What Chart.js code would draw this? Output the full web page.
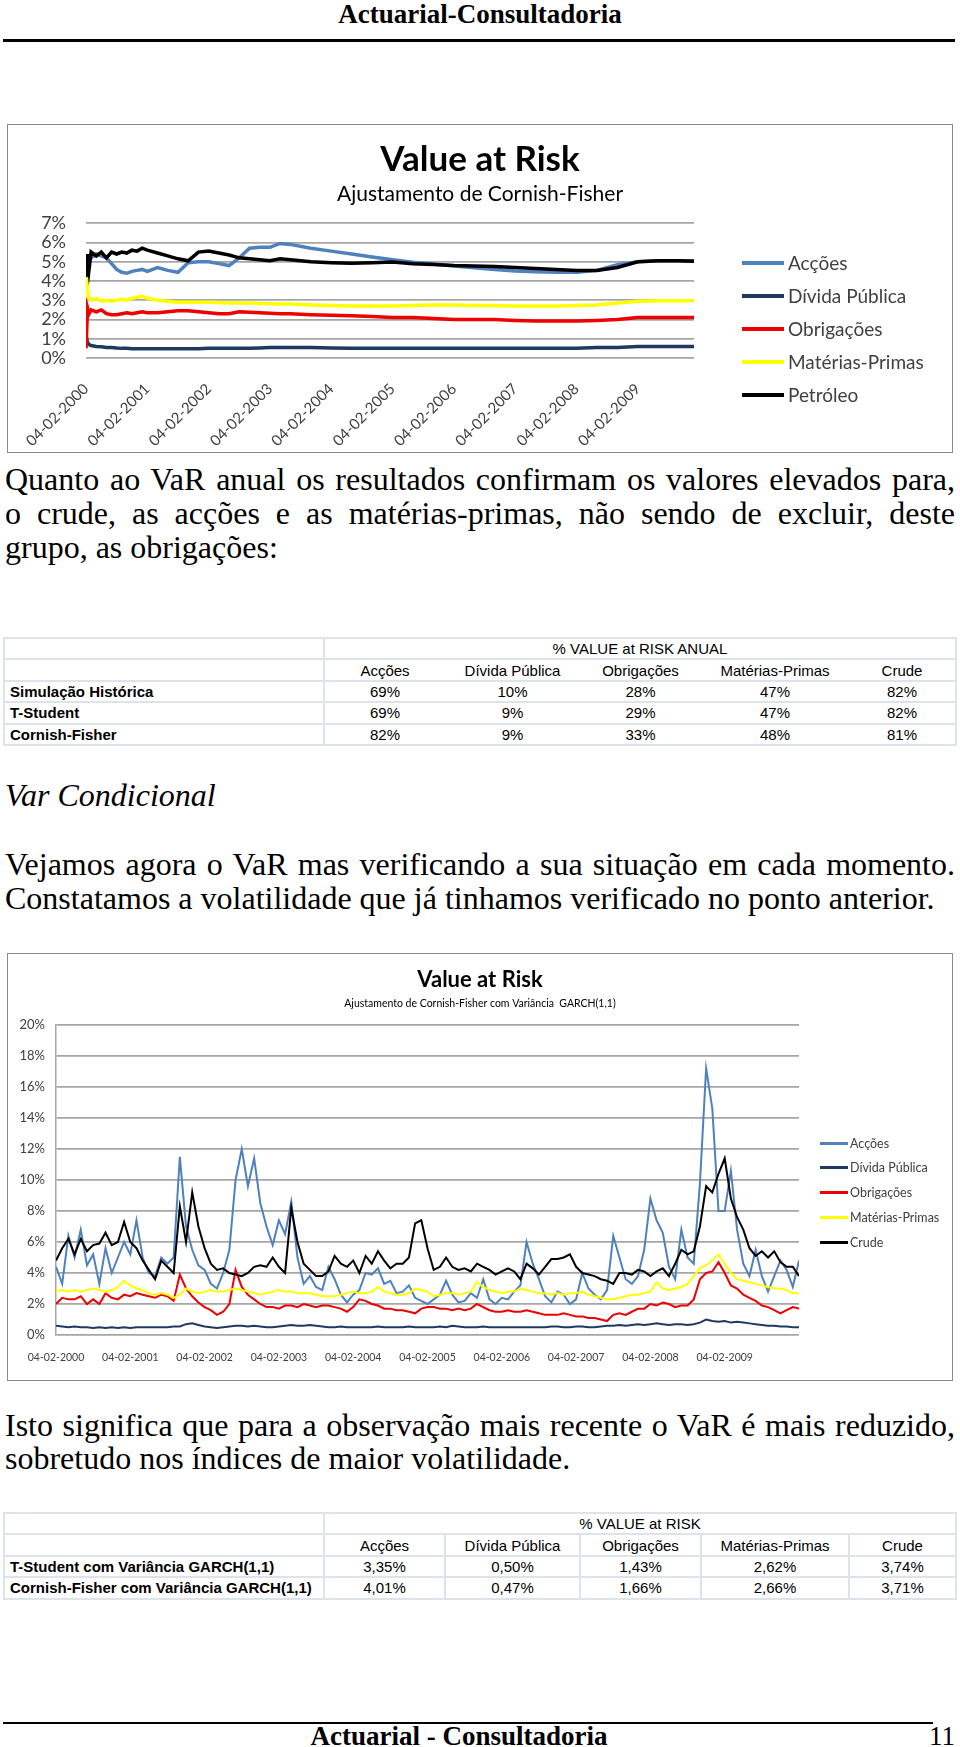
<!DOCTYPE html>
<html>
<head>
<meta charset="utf-8">
<script src="https://cdn.jsdelivr.net/npm/chart.js@4.4.1/dist/chart.umd.min.js"></script>
<style>
  body { margin: 0; background: #fff; }
  #page { position: relative; width: 960px; height: 1747px; overflow: hidden; font-family: 'Liberation Serif', 'Times New Roman', serif; color: #000; }
  .abs { position: absolute; }
  .hdr { font-weight: bold; font-size: 27px; line-height: 30px; text-align: center; }
  .txt { left: 5px; width: 950px; font-size: 32px; line-height: 34px; }
  .just { text-align: justify; text-align-last: justify; }
  .frame { border: 1.5px solid #8a8a8a; box-sizing: border-box; }
  .chartbox { position: absolute; }
  table { position: absolute; left: 3px; border-collapse: collapse; table-layout: fixed; width: 952px;
          font-family: 'Liberation Sans', Arial, sans-serif; font-size: 15px; }
  tr { height: 21.4px; }
  td { padding: 0 5px; text-align: center; white-space: nowrap; border-top: 2px solid #dde3ea; border-bottom: 2px solid #dde3ea; }
  td.lab { text-align: left; font-weight: bold; border-left: 2px solid #dde3ea; border-right: 2px solid #dde3ea; }
  td.end { border-right: 2px solid #dde3ea; }
  #t2 td { border: 2px solid #dde3ea; }
  .lg { position: absolute; font-family: Lato, sans-serif; color: #404040; white-space: nowrap; }
</style>
</head>
<body>
<div id="page">
  <div class="abs hdr" style="left:0;top:-1px;width:960px">Actuarial-Consultadoria</div>
  <div class="abs" style="left:3px;top:39px;width:952px;height:2.5px;background:#000"></div>

  <div class="abs frame" style="left:7px;top:124px;width:946px;height:329px"></div>
  <div class="chartbox" style="left:7px;top:124px;width:946px;height:329px"><canvas id="chart1"></canvas></div>
  <div id="legend1"></div>

  <div class="abs txt just" style="top:462px">Quanto ao VaR anual os resultados confirmam os valores elevados para,</div>
  <div class="abs txt just" style="top:496px">o crude, as acções e as matérias-primas, não sendo de excluir, deste</div>
  <div class="abs txt" style="top:530px">grupo, as obrigações:</div>

  <table id="t1" style="top:637px">
    <colgroup><col style="width:320px"><col style="width:121px"><col style="width:135px"><col style="width:121px"><col style="width:148px"><col style="width:107px"></colgroup>
    <tr><td class="lab"></td><td colspan="5" class="end">% VALUE at RISK ANUAL</td></tr>
    <tr><td class="lab"></td><td>Acções</td><td>Dívida Pública</td><td>Obrigações</td><td>Matérias-Primas</td><td class="end">Crude</td></tr>
    <tr><td class="lab">Simulação Histórica</td><td>69%</td><td>10%</td><td>28%</td><td>47%</td><td class="end">82%</td></tr>
    <tr><td class="lab">T-Student</td><td>69%</td><td>9%</td><td>29%</td><td>47%</td><td class="end">82%</td></tr>
    <tr><td class="lab">Cornish-Fisher</td><td>82%</td><td>9%</td><td>33%</td><td>48%</td><td class="end">81%</td></tr>
  </table>

  <div class="abs txt" style="top:778px;font-style:italic">Var Condicional</div>
  <div class="abs txt just" style="top:847px">Vejamos agora o VaR mas verificando a sua situação em cada momento.</div>
  <div class="abs txt" style="top:881px">Constatamos a volatilidade que já tinhamos verificado no ponto anterior.</div>

  <div class="abs frame" style="left:7px;top:953px;width:946px;height:428px"></div>
  <div class="chartbox" style="left:7px;top:953px;width:946px;height:428px"><canvas id="chart2"></canvas></div>
  <div id="legend2"></div>

  <div class="abs txt just" style="top:1408px">Isto significa que para a observação mais recente o VaR é mais reduzido,</div>
  <div class="abs txt" style="top:1441px">sobretudo nos índices de maior volatilidade.</div>

  <table id="t2" style="top:1512px">
    <colgroup><col style="width:320px"><col style="width:121px"><col style="width:135px"><col style="width:121px"><col style="width:148px"><col style="width:107px"></colgroup>
    <tr><td class="lab"></td><td colspan="5">% VALUE at RISK</td></tr>
    <tr><td class="lab"></td><td>Acções</td><td>Dívida Pública</td><td>Obrigações</td><td>Matérias-Primas</td><td>Crude</td></tr>
    <tr><td class="lab">T-Student com Variância GARCH(1,1)</td><td>3,35%</td><td>0,50%</td><td>1,43%</td><td>2,62%</td><td>3,74%</td></tr>
    <tr><td class="lab">Cornish-Fisher com Variância GARCH(1,1)</td><td>4,01%</td><td>0,47%</td><td>1,66%</td><td>2,66%</td><td>3,71%</td></tr>
  </table>

  <div class="abs" style="left:3px;top:1722px;width:930px;height:2px;background:#000"></div>
  <div class="abs hdr" style="left:0;top:1721px;width:918px">Actuarial - Consultadoria</div>
  <div class="abs" style="left:880px;top:1721px;width:75px;text-align:right;font-size:27px;line-height:30px">11</div>
</div>

<script>
// ===== DATA =====
const tickLabels = ['04-02-2000', '04-02-2001', '04-02-2002', '04-02-2003', '04-02-2004',
                    '04-02-2005', '04-02-2006', '04-02-2007', '04-02-2008', '04-02-2009'];
const tickMonths = [0, 12, 24, 36, 48, 60, 72, 84, 96, 108];

// chart 1: Cornish-Fisher (months since 04-02-2000)
const names1 = ['Acções', 'Dívida Pública', 'Obrigações', 'Matérias-Primas', 'Petróleo'];
const months1 = [0, 0.3, 0.6, 1, 2, 3, 4, 5, 6, 7, 8, 9, 10, 11, 12,
  14, 16, 18, 20, 22, 24, 26, 28, 30, 32, 34, 36, 38, 40,
  44, 48, 52, 56, 60, 64, 68, 72, 76, 80, 84, 88, 92, 96, 100, 104, 108, 112, 116, 119];
const acoes1 = [5.3, 4.6, 5.0, 5.2, 5.4, 5.3, 5.2, 4.9, 4.6, 4.45, 4.4, 4.5, 4.55, 4.6, 4.5,
  4.7, 4.55, 4.45, 4.95, 5.0, 5.0, 4.9, 4.8, 5.2, 5.7, 5.75, 5.75, 5.95, 5.9,
  5.7, 5.55, 5.4, 5.25, 5.1, 4.97, 4.88, 4.78, 4.68, 4.6, 4.52, 4.48, 4.45, 4.45, 4.55, 4.85, 5.0, 5.05, 5.05, 5.05];
const divida1 = [1.2, 0.8, 0.7, 0.65, 0.6, 0.58, 0.55, 0.55, 0.52, 0.5, 0.5, 0.48, 0.48, 0.48, 0.48,
  0.48, 0.48, 0.48, 0.48, 0.48, 0.5, 0.5, 0.5, 0.5, 0.5, 0.52, 0.55, 0.55, 0.55,
  0.55, 0.52, 0.5, 0.5, 0.5, 0.5, 0.5, 0.5, 0.5, 0.5, 0.5, 0.5, 0.5, 0.5, 0.55, 0.55, 0.6, 0.6, 0.6, 0.6];
const obrig1 = [0.5, 2.6, 2.3, 2.5, 2.4, 2.5, 2.3, 2.25, 2.25, 2.3, 2.35, 2.3, 2.35, 2.4, 2.35,
  2.35, 2.4, 2.45, 2.45, 2.4, 2.35, 2.3, 2.3, 2.4, 2.38, 2.35, 2.33, 2.3, 2.3,
  2.25, 2.22, 2.2, 2.15, 2.1, 2.1, 2.05, 2.0, 2.0, 2.0, 1.95, 1.92, 1.92, 1.92, 1.95, 2.0, 2.1, 2.1, 2.1, 2.1];
const mp1 = [5.1, 3.4, 3.1, 3.0, 3.1, 2.95, 3.0, 2.95, 3.0, 3.05, 3.0, 3.1, 3.15, 3.2, 3.1,
  3.0, 2.95, 2.9, 2.9, 2.9, 2.9, 2.88, 2.85, 2.85, 2.85, 2.83, 2.82, 2.8, 2.8,
  2.75, 2.72, 2.7, 2.7, 2.7, 2.72, 2.75, 2.75, 2.73, 2.72, 2.7, 2.7, 2.7, 2.72, 2.75, 2.85, 2.95, 2.97, 2.97, 2.97];
const petroleo1 = [4.2, 5.4, 4.6, 5.5, 5.3, 5.5, 5.2, 5.5, 5.4, 5.5, 5.45, 5.6, 5.55, 5.7, 5.6,
  5.45, 5.3, 5.15, 5.05, 5.5, 5.55, 5.45, 5.35, 5.2, 5.15, 5.1, 5.05, 5.15, 5.1,
  5.0, 4.95, 4.92, 4.95, 4.98, 4.9, 4.85, 4.8, 4.78, 4.75, 4.7, 4.65, 4.6, 4.55, 4.55, 4.7, 5.0, 5.05, 5.05, 5.02];

// chart 2: Cornish-Fisher com variância GARCH(1,1), one value per month
const names2 = ['Acções', 'Dívida Pública', 'Obrigações', 'Matérias-Primas', 'Crude'];
const acoes2 = [4.4, 3.3, 6.4, 5.0, 6.8, 4.5, 5.2, 3.3, 5.6, 4.0, 5.0,
  6.0, 5.2, 7.4, 5.0, 4.0, 3.8, 5.0, 4.6, 5.0, 11.5,
  7.0, 5.5, 4.5, 4.2, 3.3, 3.0, 4.0, 5.5, 10.0, 12.0,
  9.6, 11.4, 8.5, 7.0, 5.8, 7.4, 6.5, 8.6, 5.0, 3.3,
  3.8, 3.1, 2.9, 4.4, 3.6, 2.6, 2.1, 2.6, 2.9, 4.0,
  3.9, 4.3, 3.3, 3.5, 2.7, 2.8, 3.2, 2.4, 2.2, 2.0,
  2.3, 2.6, 3.5, 2.6, 2.1, 2.2, 2.7, 2.4, 3.6, 2.3,
  2.0, 2.4, 2.3, 2.8, 3.2, 6.0, 4.6, 3.6, 2.5, 2.1,
  2.8, 2.6, 2.0, 2.3, 4.0, 3.0, 2.6, 2.3, 2.9, 6.4,
  5.0, 3.6, 3.3, 3.8, 5.5, 8.8, 7.4, 6.6, 4.4, 3.6,
  6.8, 5.0, 4.6, 9.8, 17.2, 14.6, 8.0, 8.0, 10.6, 6.8,
  4.6, 3.8, 5.5, 3.8, 2.8, 3.8, 4.8, 4.2, 3.1, 4.8];
const divida2 = [0.6, 0.55, 0.5, 0.55, 0.5, 0.5, 0.45, 0.5, 0.45, 0.5, 0.45,
  0.5, 0.45, 0.5, 0.5, 0.5, 0.5, 0.5, 0.5, 0.55, 0.55,
  0.7, 0.75, 0.65, 0.55, 0.5, 0.45, 0.5, 0.55, 0.6, 0.6,
  0.55, 0.6, 0.55, 0.5, 0.5, 0.55, 0.6, 0.65, 0.6, 0.6,
  0.65, 0.6, 0.55, 0.5, 0.5, 0.55, 0.5, 0.5, 0.5, 0.5,
  0.5, 0.55, 0.5, 0.5, 0.5, 0.5, 0.55, 0.5, 0.5, 0.5,
  0.5, 0.55, 0.5, 0.6, 0.55, 0.5, 0.5, 0.5, 0.55, 0.5,
  0.5, 0.5, 0.5, 0.5, 0.5, 0.5, 0.5, 0.5, 0.5, 0.55,
  0.55, 0.5, 0.5, 0.55, 0.55, 0.5, 0.5, 0.55, 0.6, 0.6,
  0.65, 0.6, 0.65, 0.7, 0.65, 0.7, 0.75, 0.7, 0.65, 0.7,
  0.7, 0.65, 0.7, 0.8, 1.0, 0.9, 0.85, 0.9, 0.8, 0.85,
  0.8, 0.75, 0.7, 0.65, 0.6, 0.6, 0.55, 0.55, 0.5, 0.5];
const obrig2 = [2.0, 2.4, 2.3, 2.3, 2.5, 2.0, 2.3, 2.0, 2.7, 2.4, 2.3,
  2.6, 2.5, 2.7, 2.6, 2.5, 2.4, 2.6, 2.5, 2.2, 3.9,
  3.0, 2.5, 2.1, 1.8, 1.6, 1.3, 1.5, 2.0, 4.2, 3.1,
  2.6, 2.3, 2.0, 1.8, 1.8, 1.7, 1.9, 1.9, 1.8, 2.0,
  1.9, 1.8, 1.9, 1.9, 1.8, 1.7, 1.5, 1.8, 2.3, 2.2,
  2.0, 1.9, 1.7, 1.7, 1.6, 1.6, 1.5, 1.4, 1.7, 1.8,
  1.8, 1.7, 1.7, 1.6, 1.7, 1.6, 1.7, 2.0, 1.8, 1.6,
  1.5, 1.5, 1.6, 1.5, 1.5, 1.6, 1.5, 1.4, 1.3, 1.3,
  1.3, 1.4, 1.3, 1.2, 1.2, 1.1, 1.1, 1.0, 0.9, 1.3,
  1.4, 1.3, 1.5, 1.7, 1.7, 2.0, 1.9, 2.1, 2.0, 1.8,
  1.9, 1.9, 2.3, 3.6, 4.0, 4.1, 4.7, 4.0, 3.2, 3.0,
  2.6, 2.4, 2.2, 1.9, 1.8, 1.6, 1.4, 1.6, 1.8, 1.7];
const mp2 = [2.8, 2.9, 2.8, 2.9, 2.8, 2.9, 3.0, 2.9, 2.8, 2.9, 3.1,
  3.5, 3.2, 3.0, 2.9, 2.7, 2.6, 2.7, 2.6, 2.4, 2.6,
  3.0, 2.8, 2.7, 2.8, 2.9, 2.8, 2.8, 2.9, 3.0, 2.9,
  2.8, 2.7, 2.6, 2.7, 2.8, 2.9, 2.8, 2.8, 2.7, 2.7,
  2.7, 2.6, 2.5, 2.5, 2.5, 2.6, 2.7, 2.8, 2.7, 2.7,
  2.8, 3.1, 2.8, 2.7, 2.6, 2.6, 2.7, 3.0, 2.9, 2.8,
  2.5, 2.6, 2.7, 2.7, 2.6, 2.7, 2.8, 3.4, 3.1, 2.9,
  2.8, 2.7, 2.8, 2.8, 3.0, 2.9, 2.8, 2.7, 2.7, 2.6,
  2.7, 2.6, 2.7, 2.7, 2.8, 2.6, 2.5, 2.4, 2.3, 2.3,
  2.4, 2.5, 2.6, 2.6, 2.7, 2.8, 3.4, 3.0, 2.9, 3.0,
  3.1, 3.3, 3.8, 4.3, 4.5, 4.8, 5.2, 4.6, 4.0, 3.6,
  3.5, 3.4, 3.3, 3.2, 3.1, 3.0, 3.0, 2.9, 2.7, 2.7];
const crude2 = [4.8, 5.6, 6.2, 5.2, 6.2, 5.4, 5.8, 5.9, 6.6, 5.8, 6.0,
  7.3, 6.0, 5.6, 4.8, 4.2, 3.6, 4.8, 4.4, 4.0, 8.3,
  6.0, 9.2, 7.0, 5.6, 4.6, 4.2, 4.3, 4.0, 3.9, 3.8,
  4.0, 4.4, 4.5, 4.4, 5.0, 4.4, 4.0, 8.2, 6.0, 4.6,
  4.2, 3.8, 3.8, 4.1, 5.1, 4.6, 4.4, 4.8, 4.0, 5.1,
  4.6, 5.4, 4.8, 4.3, 4.6, 4.6, 5.0, 7.2, 7.4, 5.6,
  4.2, 4.4, 5.0, 4.4, 4.2, 4.3, 4.1, 4.6, 4.4, 4.2,
  3.9, 4.1, 4.3, 4.1, 3.6, 4.6, 4.3, 3.9, 4.4, 4.9,
  4.9, 5.0, 5.2, 4.4, 4.0, 3.9, 3.8, 3.6, 3.5, 3.3,
  4.0, 4.0, 3.9, 4.2, 4.1, 3.8, 4.1, 4.3, 3.8, 4.6,
  5.5, 5.2, 5.4, 7.0, 9.6, 9.2, 10.4, 11.4, 8.8, 7.6,
  6.8, 5.6, 5.1, 5.4, 5.0, 5.4, 4.7, 4.4, 4.4, 3.8];

// ===== STYLE =====
const seriesColors = ['#4f81bd', '#1f3a60', '#ee0000', '#ffff00', '#000000'];
const gridColor = '#a6a6a6';
const textColor = '#404040';

function points(xs, ys) {
  return ys.map((y, i) => ({ x: xs ? xs[i] : i, y: y }));
}

function makeDatasets(names, series, xs, width) {
  return names.map((name, i) => ({
    label: name,
    data: points(xs, series[i]),
    borderColor: seriesColors[i],
    backgroundColor: seriesColors[i],
    borderWidth: width,
    pointRadius: 0,
    tension: 0,
    fill: false,
    order: names.length - 1 - i   // last series drawn on top, like Excel
  }));
}

function xScale(max, fontSize, rotation, pad, height) {
  return {
    type: 'linear', min: 0, max: max,
    grid: { display: false }, border: { display: false },
    afterBuildTicks: s => { s.ticks = tickMonths.map(v => ({ value: v })); },
    afterFit: s => { s.height = height; },
    ticks: {
      autoSkip: false, minRotation: rotation, maxRotation: rotation, padding: pad,
      color: textColor, font: { family: 'Lato', size: fontSize },
      callback: v => tickLabels[tickMonths.indexOf(v)]
    }
  };
}

function yScale(max, step, fontSize, pad, width, showBorder) {
  return {
    min: 0, max: max,
    afterFit: s => { s.width = width; },
    border: { display: showBorder, color: gridColor, width: 1.5 },
    grid: { color: gridColor, lineWidth: 1.8, drawTicks: false },
    ticks: { stepSize: step, autoSkip: false, padding: pad, color: textColor,
             font: { family: 'Lato', size: fontSize }, callback: v => v + '%' }
  };
}

// spacer axis on the right keeps room for the legend without shifting the titles
function spacer(width) {
  return { position: 'right', display: true, grid: { display: false }, border: { display: false },
           ticks: { display: false }, afterFit: s => { s.width = width; } };
}

function htmlLegend(id, chart, left, lineW, lineH, textLeft, top, step, fontSize) {
  const box = document.getElementById(id);
  chart.data.datasets.forEach((ds, i) => {
    const cy = top + step * i;
    const line = document.createElement('div');
    line.className = 'lg';
    line.style.cssText = `left:${left}px;top:${cy - lineH / 2}px;width:${lineW}px;height:${lineH}px;background:${ds.borderColor}`;
    const txt = document.createElement('div');
    txt.className = 'lg';
    txt.textContent = ds.label;
    txt.style.cssText = `left:${textLeft}px;top:${cy - fontSize * 0.6}px;font-size:${fontSize}px;line-height:${fontSize * 1.2}px`;
    box.appendChild(line);
    box.appendChild(txt);
  });
}

const chart1 = new Chart(document.getElementById('chart1'), {
  type: 'line',
  data: { datasets: makeDatasets(names1, [acoes1, divida1, obrig1, mp1, petroleo1], months1, 3.5) },
  options: {
    responsive: true, maintainAspectRatio: false, animation: false, events: [],
    layout: { padding: 0 },
    plugins: {
      legend: { display: false }, tooltip: { enabled: false },
      title: { display: true, text: 'Value at Risk', color: '#000', font: { family: 'Lato', size: 35, weight: 'bold', lineHeight: 1 }, padding: { top: 18, bottom: 0 } },
      subtitle: { display: true, text: 'Ajustamento de Cornish-Fisher', color: '#000', font: { family: 'Lato', size: 21 }, padding: { top: 5, bottom: 16 } }
    },
    scales: {
      x: xScale(119, 15, 45, 14, 95),
      y: yScale(7, 1, 18, 20, 79, false),
      pad: spacer(259)
    }
  }
});

const chart2 = new Chart(document.getElementById('chart2'), {
  type: 'line',
  data: { datasets: makeDatasets(names2, [acoes2, divida2, obrig2, mp2, crude2], null, 2) },
  options: {
    responsive: true, maintainAspectRatio: false, animation: false, events: [],
    layout: { padding: 0 },
    plugins: {
      legend: { display: false }, tooltip: { enabled: false },
      title: { display: true, text: 'Value at Risk', color: '#000', font: { family: 'Lato', size: 22, weight: 'bold' }, padding: { top: 14, bottom: 0 } },
      subtitle: { display: true, text: 'Ajustamento de Cornish-Fisher com Variância  GARCH(1,1)', color: '#000', font: { family: 'Lato', size: 10.5 }, padding: { top: 4, bottom: 15 } }
    },
    scales: {
      x: xScale(120, 10.5, 0, 8, 46),
      y: yScale(20, 2, 13, 11, 49, true),
      pad: spacer(154)
    }
  }
});

htmlLegend('legend1', chart1, 742, 42, 4, 788, 263, 33, 19);
htmlLegend('legend2', chart2, 820, 28, 3, 850, 1143, 24.75, 12.5);
</script>
</body>
</html>
